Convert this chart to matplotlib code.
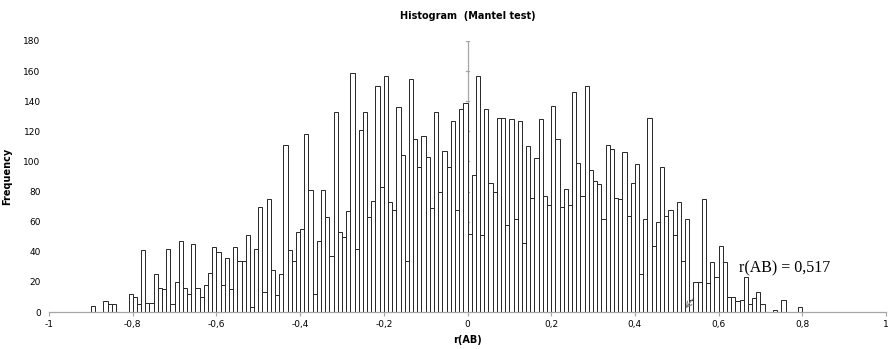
import matplotlib
matplotlib.use("Agg")
import matplotlib.pyplot as plt
import numpy as np

# ---- data ----
bin_start = -0.90
bin_width = 0.01
counts = [
    4, 0, 0, 7, 5, 5, 0, 0, 0, 12,          # -0.90 .. -0.81
    10, 5, 41, 6, 6, 25, 16, 15, 42, 5,     # -0.80 .. -0.71
    20, 47, 16, 12, 45, 16, 10, 18, 26, 43, # -0.70 .. -0.61
    40, 18, 36, 15, 43, 34, 34, 51, 3, 42,  # -0.60 .. -0.51
    70, 13, 75, 28, 11, 25, 111, 41, 34, 53,  # -0.50 .. -0.41
    55, 118, 81, 12, 47, 81, 63, 37, 133, 53, # -0.40 .. -0.31
    50, 67, 159, 42, 121, 133, 63, 74, 150, 83, # -0.30 .. -0.21
    157, 73, 68, 136, 104, 34, 155, 115, 96, 117, # -0.20 .. -0.11
    103, 69, 133, 80, 107, 96, 127, 68, 135, 139, # -0.10 .. -0.01
    52, 91, 157, 51, 135, 86, 80, 129, 129, 58,   # 0.00 .. 0.09
    128, 62, 127, 46, 110, 76, 102, 128, 77, 71,  # 0.10 .. 0.19
    137, 115, 70, 82, 71, 146, 99, 77, 150, 94,   # 0.20 .. 0.29
    87, 85, 62, 111, 108, 76, 75, 106, 64, 86,    # 0.30 .. 0.39
    98, 25, 62, 129, 44, 60, 96, 64, 68, 51,      # 0.40 .. 0.49
    73, 34, 62, 8, 20, 20, 75, 19, 33, 23,        # 0.50 .. 0.59
    44, 33, 10, 10, 7, 8, 23, 5, 9, 13,           # 0.60 .. 0.69
    5, 0, 0, 1, 0, 8, 0, 0, 0, 3,                 # 0.70 .. 0.79
]
x_ticks = [-1, -0.8, -0.6, -0.4, -0.2, 0, 0.2, 0.4, 0.6, 0.8, 1]
x_tick_labels = ["-1", "-0,8", "-0,6", "-0,4", "-0,2", "0", "0,2", "0,4", "0,6", "0,8", "1"]
y_ticks = [0, 20, 40, 60, 80, 100, 120, 140, 160, 180]
r_obs = 0.517

edges = bin_start + bin_width * np.arange(len(counts))

fig = plt.figure(figsize=(8.9, 3.49), dpi=100)
ax = fig.add_axes([49/890, 37/349, 837/890, 271/349])

ax.bar(edges, counts, width=bin_width, align="edge", color="white",
       edgecolor="#262626", linewidth=0.7, zorder=2)

# vertical axis line at x = 0 with tick marks (Excel style)
ax.plot([0, 0], [0, 180], color="#a6a6a6", linewidth=0.9, zorder=1)
for yv in y_ticks[1:]:
    ax.plot([-0.004, 0.004], [yv, yv], color="#a6a6a6", linewidth=0.9, zorder=1)

ax.set_xlim(-1, 1)
ax.set_ylim(0, 180)
for s in ["top", "right", "left"]:
    ax.spines[s].set_visible(False)
ax.spines["bottom"].set_color("#a6a6a6")
ax.spines["bottom"].set_linewidth(0.9)
ax.set_xticks(x_ticks)
ax.set_xticklabels(x_tick_labels)
ax.set_yticks(y_ticks)
ax.tick_params(axis="x", length=3, color="#a6a6a6", labelsize=6.5, pad=3)
ax.tick_params(axis="y", length=0, labelsize=6.5, pad=6)

ax.set_title("Histogram  (Mantel test)", fontsize=7, fontweight="bold", pad=16)
ax.set_xlabel("r(AB)", fontsize=7, fontweight="bold", labelpad=4)
ax.set_ylabel("Frequency", fontsize=7, fontweight="bold", labelpad=8)

ax.annotate("", xy=(r_obs, 1), xytext=(r_obs + 0.025, 10),
            arrowprops=dict(arrowstyle="->", color="#808080", lw=0.8), zorder=3)
ax.text(0.648, 29, "r(AB) = 0,517", fontsize=11.5, family="Liberation Serif",
        va="center", ha="left")

fig.savefig("out.png", dpi=100)
